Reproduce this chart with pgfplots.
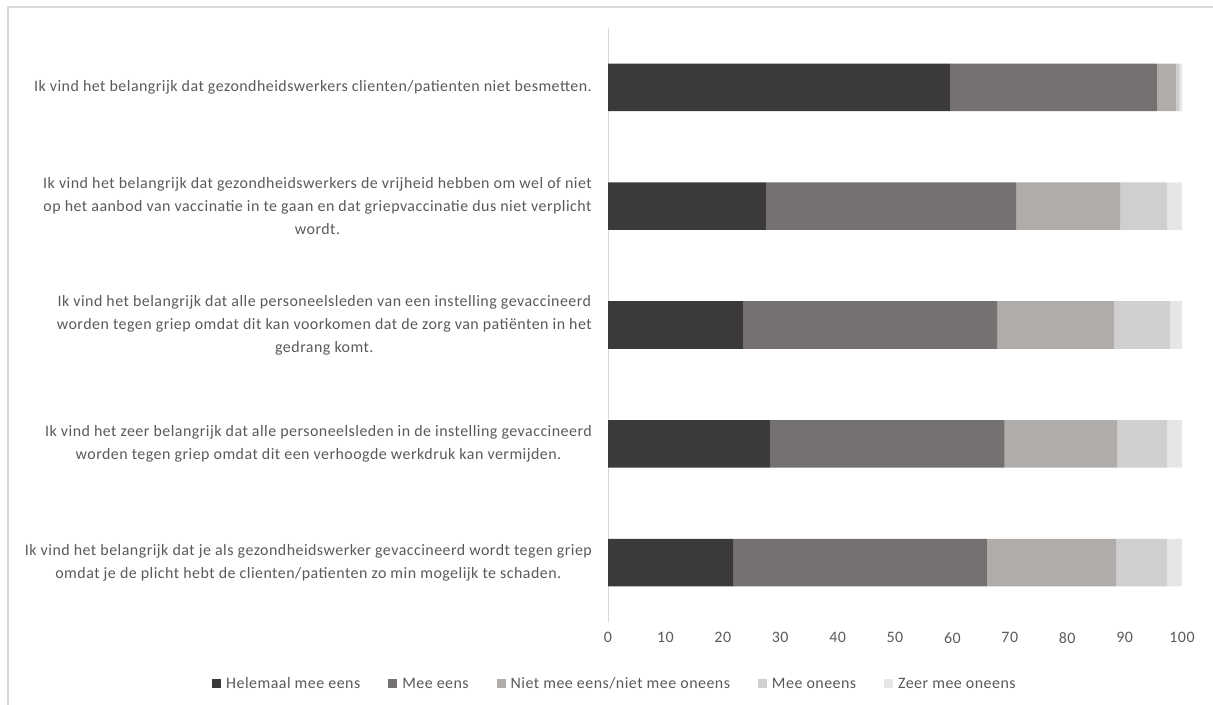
\documentclass[border=0pt]{standalone}
\usepackage{fontspec}
\setmainfont{Carlito}
\newfontfamily\lsfont{Carlito}[LetterSpace=3]
\usepackage{pgfplots}
\pgfplotsset{compat=1.18}
\definecolor{c1}{HTML}{3B3A38}
\definecolor{c2}{HTML}{757170}
\definecolor{c3}{HTML}{AFACAA}
\definecolor{c4}{HTML}{D0CECE}
\definecolor{c5}{HTML}{E7E6E6}
\definecolor{txt}{HTML}{595959}
\definecolor{frame}{HTML}{D9D9D9}
\pgfplotsset{sqlegend/.style={legend image code/.code={\fill[##1] (0bp,-4.5bp) rectangle (9bp,4.5bp);}}}
\begin{document}
\begin{tikzpicture}[x=1bp,y=1bp]
\useasboundingbox (0,0) rectangle (1213,705);
\draw[frame, line width=1.5bp] (8,0) -- (8,698) -- (1213,698);
\begin{axis}[
  at={(608bp,83bp)}, anchor=south west,
  scale only axis, width=574bp, height=594bp,
  xbar stacked, bar width=0.4,
  xmin=0, xmax=100, ymin=-0.5, ymax=4.5, y dir=reverse,
  xtick={0,10,...,100},
  ytick={0,1,2,3,4},
  yticklabels={
    {Ik vind het belangrijk dat gezondheidswerkers clienten/patienten niet besmetten.},
    {Ik vind het belangrijk dat gezondheidswerkers de vrijheid hebben om wel of niet\\op het aanbod van vaccinatie in te gaan en dat griepvaccinatie dus niet verplicht\\wordt.},
    {Ik vind het belangrijk dat alle personeelsleden van een instelling gevaccineerd\\worden tegen griep omdat dit kan voorkomen dat de zorg van patiënten in het\\gedrang komt.},
    {Ik vind het zeer belangrijk dat alle personeelsleden in de instelling gevaccineerd\\worden tegen griep omdat dit een verhoogde werkdruk kan vermijden.},
    {Ik vind het belangrijk dat je als gezondheidswerker gevaccineerd wordt tegen griep\\omdat je de plicht hebt de clienten/patienten zo min mogelijk te schaden.}
  },
  yticklabel style={align=center, font=\lsfont\fontsize{16}{23}\selectfont, text=txt, inner sep=0pt, xshift=-16bp},
  xticklabel style={font=\lsfont\fontsize{16}{18}\selectfont, text=txt, yshift=-7bp},
  /pgf/number format/assume math mode=true,
  axis x line*=bottom, axis y line*=left,
  axis line style={-},
  x axis line style={draw=none},
  y axis line style={draw=frame, line width=1bp},
  major tick length=0pt,
  xtick style={draw=none}, ytick style={draw=none},
  legend columns=5,
  legend style={at={(axis description cs:0.012,-0.103)}, anchor=center, draw=none,
    font=\lsfont\fontsize{16}{18}\selectfont\strut, text=txt,
    /tikz/every odd column/.append style={column sep=3bp},
    /tikz/every even column/.append style={column sep=26bp}},
]
\addplot[fill=c1, draw=none, sqlegend] coordinates {(59.7,0) (27.5,1) (23.5,2) (28.2,3) (21.9,4)};
\addplot[fill=c2, draw=none, sqlegend] coordinates {(36.0,0) (43.6,1) (44.3,2) (40.9,3) (44.1,4)};
\addplot[fill=c3, draw=none, sqlegend] coordinates {(3.3,0) (18.1,1) (20.4,2) (19.6,3) (22.5,4)};
\addplot[fill=c4, draw=none, sqlegend] coordinates {(0.6,0) (8.2,1) (9.7,2) (8.7,3) (8.9,4)};
\addplot[fill=c5, draw=none, sqlegend] coordinates {(0.4,0) (2.6,1) (2.1,2) (2.6,3) (2.6,4)};
\legend{Helemaal mee eens, Mee eens, Niet mee eens/niet mee oneens, Mee oneens, Zeer mee oneens}
\end{axis}
\end{tikzpicture}
\end{document}
